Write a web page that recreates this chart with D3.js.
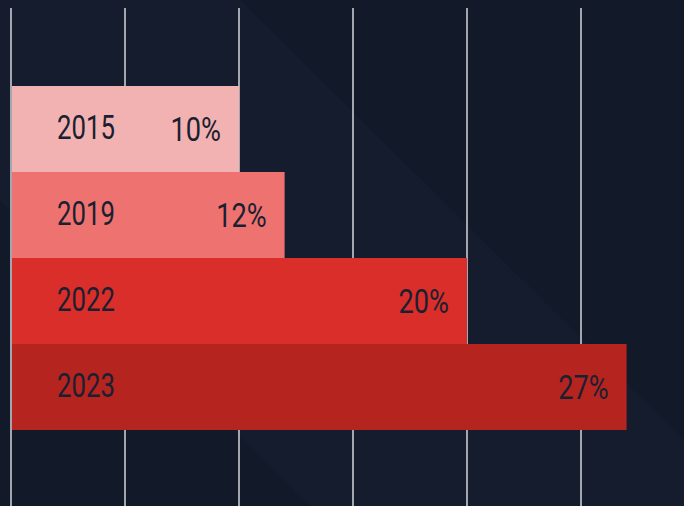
<!DOCTYPE html>
<html>
<head>
<meta charset="utf-8">
<script src="https://cdn.jsdelivr.net/npm/d3@7"></script>
<style>
  html, body { margin: 0; padding: 0; background: #121928; }
  svg { display: block; }
</style>
</head>
<body>
<div id="chart"></div>
<script>
// chart data
var years = ['2015', '2019', '2022', '2023'];
var shares = [10, 12, 20, 27];
var barColors = ['#f2b2b2', '#ee7370', '#d92e2a', '#b5241f'];
var gridTicks = [0, 5, 10, 15, 20, 25];

var width = 684;
var height = 506;

var xScale = d3.scaleLinear()
               .domain([0, 25])
               .range([11, 581]);

var yScale = d3.scaleBand()
               .domain(years)
               .range([86, 430])
               .padding(0);

var svg = d3.select('#chart')
            .append('svg')
            .attr('width', width)
            .attr('height', height);

// background with a faint diagonal band
svg.append('rect')
   .attr('width', width)
   .attr('height', height)
   .style('fill', '#121928');

var bands = [
  [[0, 0], [240, 0], [684, 440], [684, 506], [310, 506], [0, 200]]
];
svg.selectAll('polygon.band')
   .data(bands)
   .enter()
   .append('polygon')
   .attr('class', 'band')
   .attr('points', function (d) { return d.join(' '); })
   .style('fill', '#1a2233')
   .style('opacity', 0.45);

// vertical gridlines
svg.selectAll('line.grid')
   .data(gridTicks)
   .enter()
   .append('line')
   .attr('class', 'grid')
   .attr('x1', function (d) { return xScale(d); })
   .attr('x2', function (d) { return xScale(d); })
   .attr('y1', 8)
   .attr('y2', height)
   .style('stroke', '#d4d6da')
   .style('stroke-width', 1.5);

// bars
svg.selectAll('rect.bar')
   .data(years)
   .enter()
   .append('rect')
   .attr('class', 'bar')
   .attr('x', xScale(0) + 1)
   .attr('y', function (d) { return yScale(d); })
   .attr('width', function (d, i) { return xScale(shares[i]) - xScale(0) - 1; })
   .attr('height', yScale.bandwidth())
   .style('fill', function (d, i) { return barColors[i]; });

// year labels (condensed look via horizontal scale)
svg.selectAll('text.year')
   .data(years)
   .enter()
   .append('text')
   .attr('class', 'year')
   .attr('transform', function (d) {
     return 'translate(86,' + (yScale(d) + yScale.bandwidth() / 2 + 10) + ') scale(0.78,1)';
   })
   .style('text-anchor', 'middle')
   .style('font-family', 'Roboto, sans-serif')
   .style('font-size', '33px')
   .style('fill', '#1a2030')
   .text(function (d) { return d; });

// value labels
svg.selectAll('text.value')
   .data(years)
   .enter()
   .append('text')
   .attr('class', 'value')
   .attr('transform', function (d, i) {
     return 'translate(' + (xScale(shares[i]) - 18) + ',' + (yScale(d) + yScale.bandwidth() / 2 + 12) + ') scale(0.8,1)';
   })
   .style('text-anchor', 'end')
   .style('font-family', 'Roboto, sans-serif')
   .style('font-size', '34px')
   .style('fill', '#1a2030')
   .text(function (d, i) { return shares[i] + '%'; });
</script>
</body>
</html>
